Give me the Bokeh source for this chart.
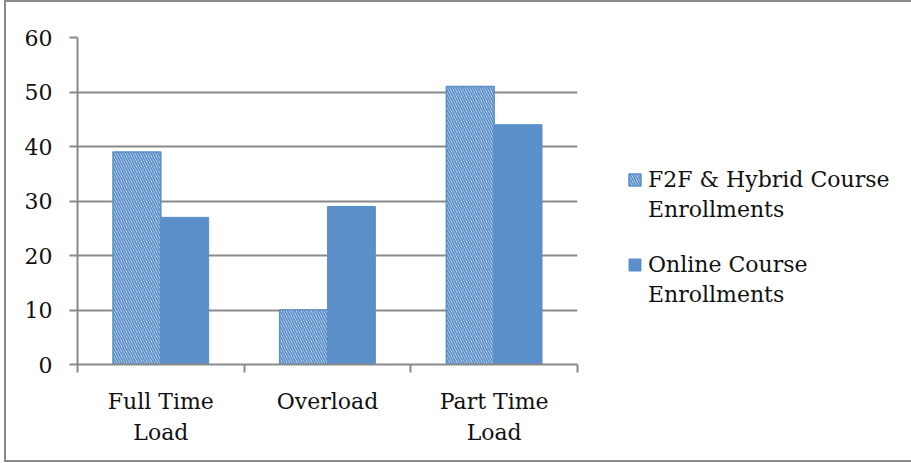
from bokeh.plotting import figure
from bokeh.models import (ColumnDataSource, Range1d, LinearAxis, FixedTicker,
                          Legend, LegendItem)
from bokeh.embed import file_html
from bokeh.resources import INLINE

categories = ["Full Time Load", "Overload", "Part Time Load"]
category_labels = ["Full Time\nLoad", "Overload", "Part Time\nLoad"]
f2f_hybrid = [39, 10, 51]
online = [27, 29, 44]
series_lines = [["F2F & Hybrid Course", "Enrollments"], ["Online Course", "Enrollments"]]
y_ticks = [0, 10, 20, 30, 40, 50, 60]

FONT = "DejaVu Serif"
FS = "22px"
BLUE = "#5A8FC9"
GREY = "#898989"
TXT = "#111111"

n = len(categories)
centers = [i + 0.5 for i in range(n)]
w = 0.287
src = ColumnDataSource(dict(cat=categories, xc=centers, f2f=f2f_hybrid, online=online,
                            x1=[c - w / 2 for c in centers], x2=[c + w / 2 for c in centers]))

p = figure(x_range=Range1d(0, n), y_range=Range1d(0, 60),
           frame_width=500, frame_height=327,
           min_border_left=71, min_border_top=35, min_border_bottom=96, min_border_right=334,
           output_backend="svg", toolbar_location=None, x_axis_location=None)
p.outline_line_color = None
p.background_fill_color = "white"
p.border_fill_color = "white"
p.styles = {"border-left": "2px solid #8a8a8a", "border-top": "2px solid #8a8a8a",
            "border-bottom": "2px solid #8a8a8a", "margin-left": "4px"}

# y axis
p.yaxis.ticker = FixedTicker(ticks=y_ticks, minor_ticks=[])
p.yaxis.axis_line_color = GREY
p.yaxis.axis_line_width = 2
p.yaxis.major_tick_line_color = GREY
p.yaxis.major_tick_line_width = 2
p.yaxis.major_tick_out = 8
p.yaxis.major_tick_in = 0
p.yaxis.major_label_text_font = FONT
p.yaxis.major_label_text_font_size = FS
p.yaxis.major_label_text_color = TXT
p.yaxis.major_label_standoff = 17
p.ygrid.grid_line_color = GREY
p.ygrid.grid_line_width = 2
p.xgrid.grid_line_color = None

# x axis with ticks at category boundaries
edges = list(range(n + 1))
edge_axis = LinearAxis(ticker=FixedTicker(ticks=edges, minor_ticks=[]))
edge_axis.axis_line_color = GREY
edge_axis.axis_line_width = 2
edge_axis.major_tick_line_color = GREY
edge_axis.major_tick_line_width = 2
edge_axis.major_tick_out = 8
edge_axis.major_tick_in = 0
edge_axis.major_label_overrides = {e: "" for e in edges}
edge_axis.major_label_text_font_size = "1px"
edge_axis.major_label_standoff = 0
p.add_layout(edge_axis, "below")

# category labels centred on each group
cat_axis = LinearAxis(ticker=FixedTicker(ticks=centers, minor_ticks=[]))
cat_axis.axis_line_color = None
cat_axis.major_tick_line_color = None
cat_axis.minor_tick_line_color = None
cat_axis.major_label_overrides = {c: lab for c, lab in zip(centers, category_labels)}
cat_axis.major_label_text_font = FONT
cat_axis.major_label_text_font_size = FS
cat_axis.major_label_text_color = TXT
cat_axis.major_label_text_line_height = 1.25
cat_axis.major_label_standoff = 10
p.add_layout(cat_axis, "below")

r1 = p.vbar(x="x1", top="f2f", width=w, source=src,
            fill_color="white", line_color=BLUE, line_width=1.5,
            hatch_pattern="\\", hatch_color=BLUE, hatch_scale=5, hatch_weight=1.8)
r2 = p.vbar(x="x2", top="online", width=w, source=src,
            fill_color=BLUE, line_color=BLUE, line_width=1)

# legend: each series' first line sits next to its swatch, second line below it
items = [LegendItem(label=series_lines[0][0], renderers=[r1]),
         LegendItem(label=series_lines[0][1] + "\n ", renderers=[]),
         LegendItem(label=series_lines[1][0], renderers=[r2]),
         LegendItem(label=series_lines[1][1], renderers=[])]
legend = Legend(items=items, location=(50, 57), orientation="vertical")
legend.border_line_color = None
legend.background_fill_alpha = 0
legend.padding = 0
legend.margin = 0
legend.glyph_width = 15
legend.glyph_height = 15
legend.label_standoff = 6
legend.spacing = 5
legend.label_height = 20
legend.label_text_font = FONT
legend.label_text_font_size = FS
legend.label_text_color = TXT
p.add_layout(legend, "right")

open("out.html", "w").write(file_html(p, INLINE))
